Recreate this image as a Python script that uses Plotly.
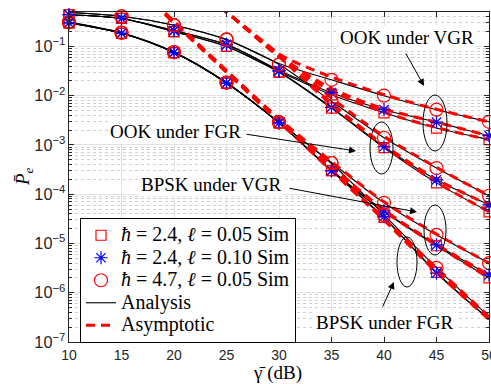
import plotly.graph_objects as go

snr_db = [10, 15, 20, 25, 30, 35, 40, 45, 50]

# ---------------- Analysis (black solid) ----------------
ook_vgr_sq_ana = [0.44, 0.37, 0.20, 0.100, 0.031, 0.0104, 4.5e-3, 2.2e-3, 1.28e-3]
ook_vgr_st_ana = [0.44, 0.37, 0.21, 0.110, 0.033, 0.0115, 5.2e-3, 2.9e-3, 1.54e-3]
ook_vgr_ci_ana = [0.49, 0.41, 0.27, 0.139, 0.045, 0.0210, 1.0e-2, 5.2e-3, 2.95e-3]
ook_fgr_sq_ana = [0.44, 0.37, 0.20, 0.100, 0.030, 5.6e-3, 8.8e-4, 1.7e-4, 4.4e-5]
ook_fgr_st_ana = [0.44, 0.37, 0.21, 0.108, 0.031, 5.8e-3, 9.2e-4, 1.96e-4, 6.1e-5]
ook_fgr_ci_ana = [0.49, 0.41, 0.27, 0.137, 0.043, 7.7e-3, 1.4e-3, 3.4e-4, 9.3e-5]
bpsk_vgr_sq_ana = [0.30, 0.185, 0.075, 0.018, 2.8e-3, 3.0e-4, 4.4e-5, 9.0e-6, 2.0e-6]
bpsk_vgr_st_ana = [0.30, 0.185, 0.075, 0.018, 2.8e-3, 3.1e-4, 4.6e-5, 9.4e-6, 2.3e-6]
bpsk_vgr_ci_ana = [0.31, 0.190, 0.077, 0.0185, 2.9e-3, 4.4e-4, 6.7e-5, 1.5e-5, 4.0e-6]
bpsk_fgr_sq_ana = [0.30, 0.185, 0.075, 0.018, 2.8e-3, 3.0e-4, 3.3e-5, 2.6e-6, 2.9e-7]
bpsk_fgr_st_ana = [0.30, 0.185, 0.075, 0.018, 2.8e-3, 3.0e-4, 3.4e-5, 2.5e-6, 2.9e-7]
bpsk_fgr_ci_ana = [0.31, 0.190, 0.077, 0.0185, 2.9e-3, 4.2e-4, 3.8e-5, 3.2e-6, 3.3e-7]

# ---------------- Simulation markers ----------------
ook_vgr_sq_sim = [0.44, 0.37, 0.20, 0.100, 0.030, 0.0104, 4.5e-3, 2.2e-3, 1.28e-3]
ook_vgr_st_sim = [0.44, 0.37, 0.21, 0.110, 0.032, 0.0115, 5.2e-3, 2.9e-3, 1.54e-3]
ook_vgr_ci_sim = [0.50, 0.41, 0.27, 0.139, 0.043, 0.0210, 1.0e-2, 5.2e-3, 2.95e-3]
ook_fgr_sq_sim = [0.44, 0.37, 0.20, 0.100, 0.030, 5.6e-3, 8.8e-4, 1.7e-4, 4.4e-5]
ook_fgr_st_sim = [0.44, 0.37, 0.21, 0.108, 0.032, 5.8e-3, 9.2e-4, 1.96e-4, 6.1e-5]
ook_fgr_ci_sim = [0.50, 0.41, 0.27, 0.137, 0.043, 7.7e-3, 1.4e-3, 3.4e-4, 9.3e-5]
bpsk_vgr_sq_sim = [0.30, 0.185, 0.075, 0.018, 2.8e-3, 3.0e-4, 4.4e-5, 9.0e-6, 2.0e-6]
bpsk_vgr_st_sim = [0.30, 0.185, 0.075, 0.018, 2.8e-3, 3.0e-4, 4.6e-5, 9.4e-6, 2.3e-6]
bpsk_vgr_ci_sim = [0.31, 0.190, 0.077, 0.0185, 2.9e-3, 4.3e-4, 6.7e-5, 1.5e-5, 4.0e-6]
bpsk_fgr_sq_sim = [0.30, 0.185, 0.075, 0.018, 2.8e-3, 3.0e-4, 3.4e-5, 2.6e-6, None]
bpsk_fgr_st_sim = [0.30, 0.185, 0.075, 0.018, 2.8e-3, 3.0e-4, 3.5e-5, 2.5e-6, None]
bpsk_fgr_ci_sim = [0.31, 0.190, 0.077, 0.0185, 2.9e-3, 4.3e-4, 3.8e-5, 3.2e-6, None]

# ---------------- Asymptotic (red dashed) ----------------
ook_vgr_sq_asy = [None, None, 3.7, 0.50, 0.062, 0.0125, 4.6e-3, 2.25e-3, 1.28e-3]
ook_vgr_st_asy = [None, None, 3.7, 0.50, 0.065, 0.0140, 5.4e-3, 2.9e-3, 1.54e-3]
ook_vgr_ci_asy = [None, None, 3.7, 0.50, 0.070, 0.0240, 1.05e-2, 5.3e-3, 2.95e-3]
ook_fgr_sq_asy = [None, None, 3.7, 0.50, 0.062, 6.6e-3, 9.4e-4, 1.75e-4, 4.4e-5]
ook_fgr_st_asy = [None, None, 3.7, 0.50, 0.065, 7.0e-3, 1.0e-3, 2.0e-4, 6.1e-5]
ook_fgr_ci_asy = [None, None, 3.7, 0.50, 0.070, 9.0e-3, 1.5e-3, 3.5e-4, 9.3e-5]
bpsk_vgr_sq_asy = [None, 3.2, 0.32, 0.032, 3.3e-3, 3.6e-4, 4.6e-5, 9.2e-6, 2.0e-6]
bpsk_vgr_st_asy = [None, 3.2, 0.32, 0.032, 3.3e-3, 3.7e-4, 4.8e-5, 9.6e-6, 2.3e-6]
bpsk_vgr_ci_asy = [None, 3.2, 0.32, 0.032, 3.4e-3, 4.6e-4, 7.0e-5, 1.55e-5, 4.0e-6]
bpsk_fgr_sq_asy = [None, 3.0, 0.30, 0.030, 3.0e-3, 3.0e-4, 3.0e-5, 2.7e-6, 2.9e-7]
bpsk_fgr_st_asy = [None, 3.0, 0.30, 0.030, 3.0e-3, 3.0e-4, 3.0e-5, 2.6e-6, 2.9e-7]
bpsk_fgr_ci_asy = [None, 3.2, 0.32, 0.032, 3.2e-3, 3.2e-4, 3.2e-5, 3.2e-6, 3.3e-7]

x_tick_vals = [10, 15, 20, 25, 30, 35, 40, 45, 50]
x_tick_text = ["10", "15", "20", "25", "30", "35", "40", "45", "50"]

legend_names = ["<i>ħ</i> = 2.4, <i>ℓ</i> = 0.05 Sim",
                "<i>ħ</i> = 2.4, <i>ℓ</i> = 0.10 Sim",
                "<i>ħ</i> = 4.7, <i>ℓ</i> = 0.05 Sim",
                "Analysis", "Asymptotic"]

ana_all = [ook_vgr_sq_ana, ook_vgr_st_ana, ook_vgr_ci_ana, ook_fgr_sq_ana, ook_fgr_st_ana, ook_fgr_ci_ana,
           bpsk_vgr_sq_ana, bpsk_vgr_st_ana, bpsk_vgr_ci_ana, bpsk_fgr_sq_ana, bpsk_fgr_st_ana, bpsk_fgr_ci_ana]
asy_all = [ook_vgr_sq_asy, ook_vgr_st_asy, ook_vgr_ci_asy, ook_fgr_sq_asy, ook_fgr_st_asy, ook_fgr_ci_asy,
           bpsk_vgr_sq_asy, bpsk_vgr_st_asy, bpsk_vgr_ci_asy, bpsk_fgr_sq_asy, bpsk_fgr_st_asy, bpsk_fgr_ci_asy]
sim_sq = [ook_vgr_sq_sim, ook_fgr_sq_sim, bpsk_vgr_sq_sim, bpsk_fgr_sq_sim]
sim_st = [ook_vgr_st_sim, ook_fgr_st_sim, bpsk_vgr_st_sim, bpsk_fgr_st_sim]
sim_ci = [ook_vgr_ci_sim, ook_fgr_ci_sim, bpsk_vgr_ci_sim, bpsk_fgr_ci_sim]

serif = "Liberation Serif, Times New Roman, serif"
sans = "Liberation Sans, Arial, sans-serif"
axcol = "#262626"


def leg(t):
    return '<span style="font-size:20px">' + t + '</span>'


fig = go.Figure()

for i, ys in enumerate(ana_all):
    fig.add_trace(go.Scatter(x=snr_db, y=ys, mode="lines",
                             line=dict(color="black", width=1.1, shape="spline", smoothing=0.8),
                             name=leg(legend_names[3]), legendgroup="ana", legendrank=4,
                             showlegend=(i == 0)))
for i, ys in enumerate(asy_all):
    fig.add_trace(go.Scatter(x=snr_db, y=ys, mode="lines",
                             line=dict(color="#ff0000", width=3, dash="9px,6px", shape="spline", smoothing=0.8),
                             name=leg(legend_names[4]), legendgroup="asy", legendrank=5,
                             showlegend=(i == 0)))

marker_styles = [
    (sim_sq, dict(symbol="square-open", size=10, color="#ff0000", line=dict(width=1.2, color="#ff0000")), 1),
    (sim_st, dict(symbol="asterisk-open", size=11, color="#0000ff", line=dict(width=1.2, color="#0000ff")), 2),
    (sim_ci, dict(symbol="circle-open", size=13, color="#ff0000", line=dict(width=1.2, color="#ff0000")), 3),
]
for group, mk, rank in marker_styles:
    for j, ys in enumerate(group):
        fig.add_trace(go.Scatter(x=snr_db, y=ys, mode="markers", marker=mk, cliponaxis=False,
                                 name=leg(legend_names[rank - 1]), legendgroup="sim%d" % rank,
                                 legendrank=rank, showlegend=(j == 0)))


def px2x(px):
    return (px - 69) / 420.0


def py2y(py):
    return (342 - py) / 330.0


texts = [("OOK under VGR", 407, 38), ("OOK under FGR", 175, 131),
         ("BPSK under VGR", 211, 185), ("BPSK under FGR", 385, 322)]
annotations = []
for t, cx, cy in texts:
    annotations.append(dict(text=t, x=px2x(cx), y=py2y(cy), xref="paper", yref="paper",
                            xanchor="center", yanchor="middle",
                            showarrow=False, bgcolor="white", borderpad=1,
                            font=dict(family=serif, size=19, color="black")))
arrows = [(424, 86, -19, -34), (356, 151, -111, -17), (417, 212, -129, -24), (394, 282, -12, 26)]
for tx, ty, ax, ay in arrows:
    annotations.append(dict(text="", x=px2x(tx), y=py2y(ty), xref="paper", yref="paper",
                            showarrow=True, ax=ax, ay=ay, arrowhead=2, arrowsize=1.4,
                            arrowwidth=1, arrowcolor="black", standoff=0, startstandoff=0))

# axis titles placed as annotations
annotations.append(dict(text="γ\u0304\u00a0(dB)", x=px2x(277), y=py2y(373), xref="paper", yref="paper",
                        xanchor="center", yanchor="middle", showarrow=False,
                        font=dict(family=serif, size=19, color="black")))
annotations.append(dict(text="<i>P̄</i><sub><i>e</i></sub>", x=px2x(24), y=py2y(177), xref="paper", yref="paper",
                        xanchor="center", yanchor="middle", showarrow=False, textangle=-90,
                        font=dict(family=serif, size=19, color="black")))

ellipses = [(423, 447, 95, 151), (370, 393, 122, 174), (424, 446, 205, 255), (397, 417, 237, 287)]
shapes = []
for x0, x1, y0, y1 in ellipses:
    shapes.append(dict(type="circle", xref="paper", yref="paper",
                       x0=px2x(x0), x1=px2x(x1), y0=py2y(y1), y1=py2y(y0),
                       line=dict(color="black", width=1), layer="above"))

fig.update_layout(
    width=491, height=384,
    margin=dict(l=69, r=2, t=12, b=42, autoexpand=False),
    paper_bgcolor="white", plot_bgcolor="white",
    showlegend=True,
    legend=dict(x=px2x(80), y=py2y(218), xanchor="left", yanchor="top",
                bgcolor="white", bordercolor="black", borderwidth=1,
                font=dict(family=serif, size=15, color="black"),
                tracegroupgap=0, itemwidth=30),
    annotations=annotations,
    shapes=shapes,
)

fig.update_xaxes(range=[10, 50], tickmode="array", tickvals=x_tick_vals, ticktext=x_tick_text,
                 ticklabelposition="outside", ticklabeloverflow="allow", automargin=False,
                 showline=True, linecolor=axcol, linewidth=1, mirror="ticks",
                 ticks="inside", ticklen=5, tickcolor=axcol,
                 showgrid=True, gridcolor="#e2e2e2", gridwidth=1, zeroline=False,
                 tickfont=dict(family=sans, size=14, color=axcol))
fig.update_yaxes(type="log", range=[-7, -0.30103], dtick=1, exponentformat="power",
                 showexponent="all", automargin=False, ticklabeloverflow="allow",
                 showline=True, linecolor=axcol, linewidth=1, mirror="ticks",
                 ticks="inside", ticklen=5, tickcolor=axcol,
                 showgrid=True, gridcolor="#e2e2e2", gridwidth=1, zeroline=False,
                 minor=dict(ticks="inside", ticklen=3, tickcolor=axcol, showgrid=True,
                            gridcolor="#cfcfcf", griddash="dot", gridwidth=1),
                 tickfont=dict(family=sans, size=13, color=axcol))

fig.write_html("out.html")
